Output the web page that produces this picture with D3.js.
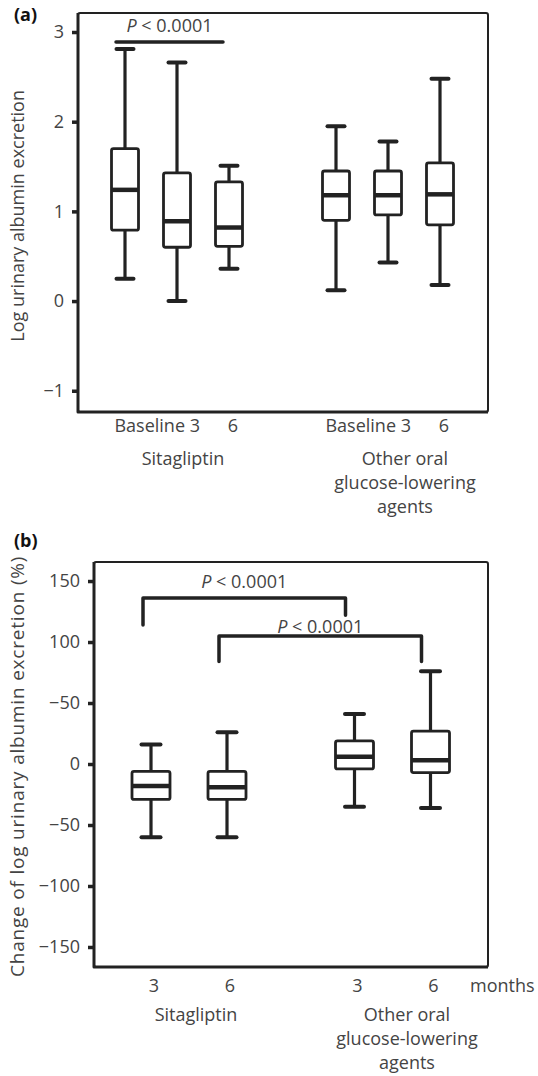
<!DOCTYPE html>
<html>
<head>
<meta charset="utf-8">
<script src="https://d3js.org/d3.v7.min.js"></script>
<style>
  body { margin: 0; background: #fff; }
  svg text { font-family: "Open Sans", "Noto Sans", sans-serif; fill: #444; }
</style>
</head>
<body>
<div id="chart"></div>
<script>
// ---- data ----
// panel (a): log urinary albumin excretion
const groups = ["Sitagliptin", "Other oral glucose-lowering agents"];
const timesA = ["Baseline", "3", "6"];
// order: Sita baseline, 3, 6, Other baseline, 3, 6
const maxA = [2.81, 2.66, 1.51, 1.95, 1.78, 2.48];
const q3A  = [1.70, 1.43, 1.33, 1.45, 1.45, 1.54];
const medA = [1.24, 0.89, 0.82, 1.18, 1.18, 1.19];
const q1A  = [0.79, 0.60, 0.61, 0.90, 0.96, 0.85];
const minA = [0.25, 0.00, 0.36, 0.12, 0.43, 0.18];
const ticksA = [-1, 0, 1, 2, 3];

// panel (b): change of log urinary albumin excretion (%)
const timesB = ["3", "6"];
// order: Sita 3, 6, Other 3, 6
const maxB = [16, 26, 41, 76];
const q3B  = [-6, -6, 19, 27];
const medB = [-18, -19, 6, 3];
const q1B  = [-29, -29, -4, -7];
const minB = [-60, -60, -35, -36];
const ticksB = [150, 100, 50, 0, -50, -100, -150];
// tick labels as printed in the figure (the 50 tick is printed "−50")
const tickLabelsB = ["150", "100", "\u221250", "0", "\u221250", "\u2212100", "\u2212150"];

// significance brackets
const sigA = [{from: [0, "Baseline"], to: [0, "6"], level: 2.89, text: 3.0}];
const sigB = [
  {from: [0, "3"], to: [1, "3"], level: 136, legs: [114, 122], text: 144},
  {from: [0, "6"], to: [1, "6"], level: 105, legs: [84, 84], text: 107.5}
];

const W = 538, H = 1076;
const ink = "#222";
const svg = d3.select("#chart").append("svg").attr("width", W).attr("height", H);

// ---------- helpers ----------
function frame(x0, x1, y0, y1) {
  svg.append("rect")
    .attr("x", x0).attr("y", y0).attr("width", x1 - x0).attr("height", y1 - y0)
    .attr("rx", 2).attr("fill", "none").attr("stroke", ink).attr("stroke-width", 2);
  // left and bottom axis lines are heavier
  svg.append("path")
    .attr("d", `M${x0},${y0} V${y1} H${x1}`)
    .attr("fill", "none").attr("stroke", ink).attr("stroke-width", 3)
    .attr("stroke-linejoin", "round");
}

function yAxis(y, x0, ticks, fmt) {
  const g = svg.append("g").attr("transform", `translate(${x0},0)`)
    .call(d3.axisLeft(y).tickValues(ticks).tickSize(6).tickPadding(8).tickFormat(fmt));
  g.select(".domain").remove();
  g.selectAll(".tick line").attr("stroke", ink).attr("stroke-width", 3.5);
  g.selectAll(".tick text").attr("font-size", 18).attr("fill", "#444")
    .attr("font-family", "Open Sans, sans-serif");
}

function box(cx, y, s, w, capW) {
  const g = svg.append("g");
  g.append("line").attr("x1", cx).attr("x2", cx).attr("y1", y(s.max)).attr("y2", y(s.q3))
    .attr("stroke", ink).attr("stroke-width", 3.2);
  g.append("line").attr("x1", cx).attr("x2", cx).attr("y1", y(s.q1)).attr("y2", y(s.min))
    .attr("stroke", ink).attr("stroke-width", 3.2);
  [s.max, s.min].forEach(v => {
    g.append("line").attr("x1", cx - capW / 2).attr("x2", cx + capW / 2)
      .attr("y1", y(v)).attr("y2", y(v))
      .attr("stroke", ink).attr("stroke-width", 4).attr("stroke-linecap", "round");
  });
  g.append("rect").attr("x", cx - w / 2).attr("y", y(s.q3))
    .attr("width", w).attr("height", y(s.q1) - y(s.q3)).attr("rx", 2)
    .attr("fill", "#fff").attr("stroke", ink).attr("stroke-width", 2.8);
  g.append("line").attr("x1", cx - w / 2).attr("x2", cx + w / 2)
    .attr("y1", y(s.med)).attr("y2", y(s.med))
    .attr("stroke", ink).attr("stroke-width", 4.5);
}

function pText(x, y) {
  const t = svg.append("text").attr("x", x).attr("y", y)
    .attr("text-anchor", "middle").attr("font-size", 18);
  t.append("tspan").attr("font-style", "italic").text("P");
  t.append("tspan").text(" < 0.0001");
}

// ================= panel (a) =================
const yA = d3.scaleLinear().domain([-1.237, 3.212]).range([412, 13]);
const outerA = d3.scalePoint().domain(groups).range([177, 388]);
const innerA = d3.scalePoint().domain(timesA).range([-52, 52]);
const xA = (gi, t) => outerA(groups[gi]) + innerA(t);

svg.append("text").attr("x", 14).attr("y", 21).attr("font-size", 18)
  .attr("font-weight", "bold").style("fill", "#111").text("(a)");

frame(78, 488, 13, 412);
yAxis(yA, 78, ticksA, d => d < 0 ? "\u2212" + Math.abs(d) : d);

svg.append("text")
  .attr("transform", `translate(24,${yA(0.95)}) rotate(-90)`)
  .attr("text-anchor", "middle").attr("font-size", 18)
  .text("Log urinary albumin excretion");

groups.forEach((gname, gi) => {
  timesA.forEach((t, ti) => {
    const i = gi * 3 + ti;
    box(xA(gi, t), yA, {max: maxA[i], q3: q3A[i], med: medA[i], q1: q1A[i], min: minA[i]}, 27, 17);
  });
  // x tick labels
  svg.append("text").attr("x", xA(gi, "3") + 23).attr("y", 432)
    .attr("text-anchor", "end").attr("font-size", 18).text("Baseline 3");
  svg.append("text").attr("x", xA(gi, "6") + 4).attr("y", 432)
    .attr("text-anchor", "middle").attr("font-size", 18).text("6");
});

sigA.forEach(s => {
  const x1 = xA(s.from[0], s.from[1]) - 9, x2 = xA(s.to[0], s.to[1]) - 6;
  svg.append("line").attr("x1", x1).attr("x2", x2).attr("y1", yA(s.level)).attr("y2", yA(s.level))
    .attr("stroke", ink).attr("stroke-width", 3.5).attr("stroke-linecap", "round");
  pText((x1 + x2) / 2, yA(s.text));
});

// group labels
function groupLabels(cx, y0) {
  svg.append("text").attr("x", cx[0]).attr("y", y0).attr("text-anchor", "middle")
    .attr("font-size", 18).text("Sitagliptin");
  ["Other oral", "glucose-lowering", "agents"].forEach((line, k) => {
    svg.append("text").attr("x", cx[1]).attr("y", y0 + k * 24).attr("text-anchor", "middle")
      .attr("font-size", 18).text(line);
  });
}
groupLabels([183, 405], 465);

// ================= panel (b) =================
const yB = d3.scaleLinear().domain([-166.4, 165.6]).range([967, 562]);
const outerB = d3.scalePoint().domain(groups).range([189, 392.5]);
const innerB = d3.scalePoint().domain(timesB).range([-38, 38]);
const xB = (gi, t) => outerB(groups[gi]) + innerB(t);

svg.append("text").attr("x", 14).attr("y", 547).attr("font-size", 18)
  .attr("font-weight", "bold").style("fill", "#111").text("(b)");

frame(94, 488, 562, 967);
yAxis(yB, 94, ticksB, (d, i) => tickLabelsB[i]);

svg.append("text")
  .attr("transform", `translate(24,${yB(-2)}) rotate(-90)`)
  .attr("text-anchor", "middle").attr("font-size", 19).attr("letter-spacing", 0.8)
  .text("Change of log urinary albumin excretion (%)");

groups.forEach((gname, gi) => {
  timesB.forEach((t, ti) => {
    const i = gi * 2 + ti;
    box(xB(gi, t), yB, {max: maxB[i], q3: q3B[i], med: medB[i], q1: q1B[i], min: minB[i]}, 38, 19);
    svg.append("text").attr("x", xB(gi, t) + 3).attr("y", 992)
      .attr("text-anchor", "middle").attr("font-size", 18).text(t);
  });
});
svg.append("text").attr("x", 470).attr("y", 992).attr("font-size", 18).text("months");

sigB.forEach(s => {
  const x1 = xB(s.from[0], s.from[1]) - 8, x2 = xB(s.to[0], s.to[1]) - 9;
  svg.append("path")
    .attr("d", `M${x1},${yB(s.legs[0])} V${yB(s.level)} H${x2} V${yB(s.legs[1])}`)
    .attr("fill", "none").attr("stroke", ink).attr("stroke-width", 3.5)
    .attr("stroke-linecap", "round").attr("stroke-linejoin", "round");
  pText((x1 + x2) / 2, yB(s.text));
});

groupLabels([196, 407], 1021);
</script>
</body>
</html>
